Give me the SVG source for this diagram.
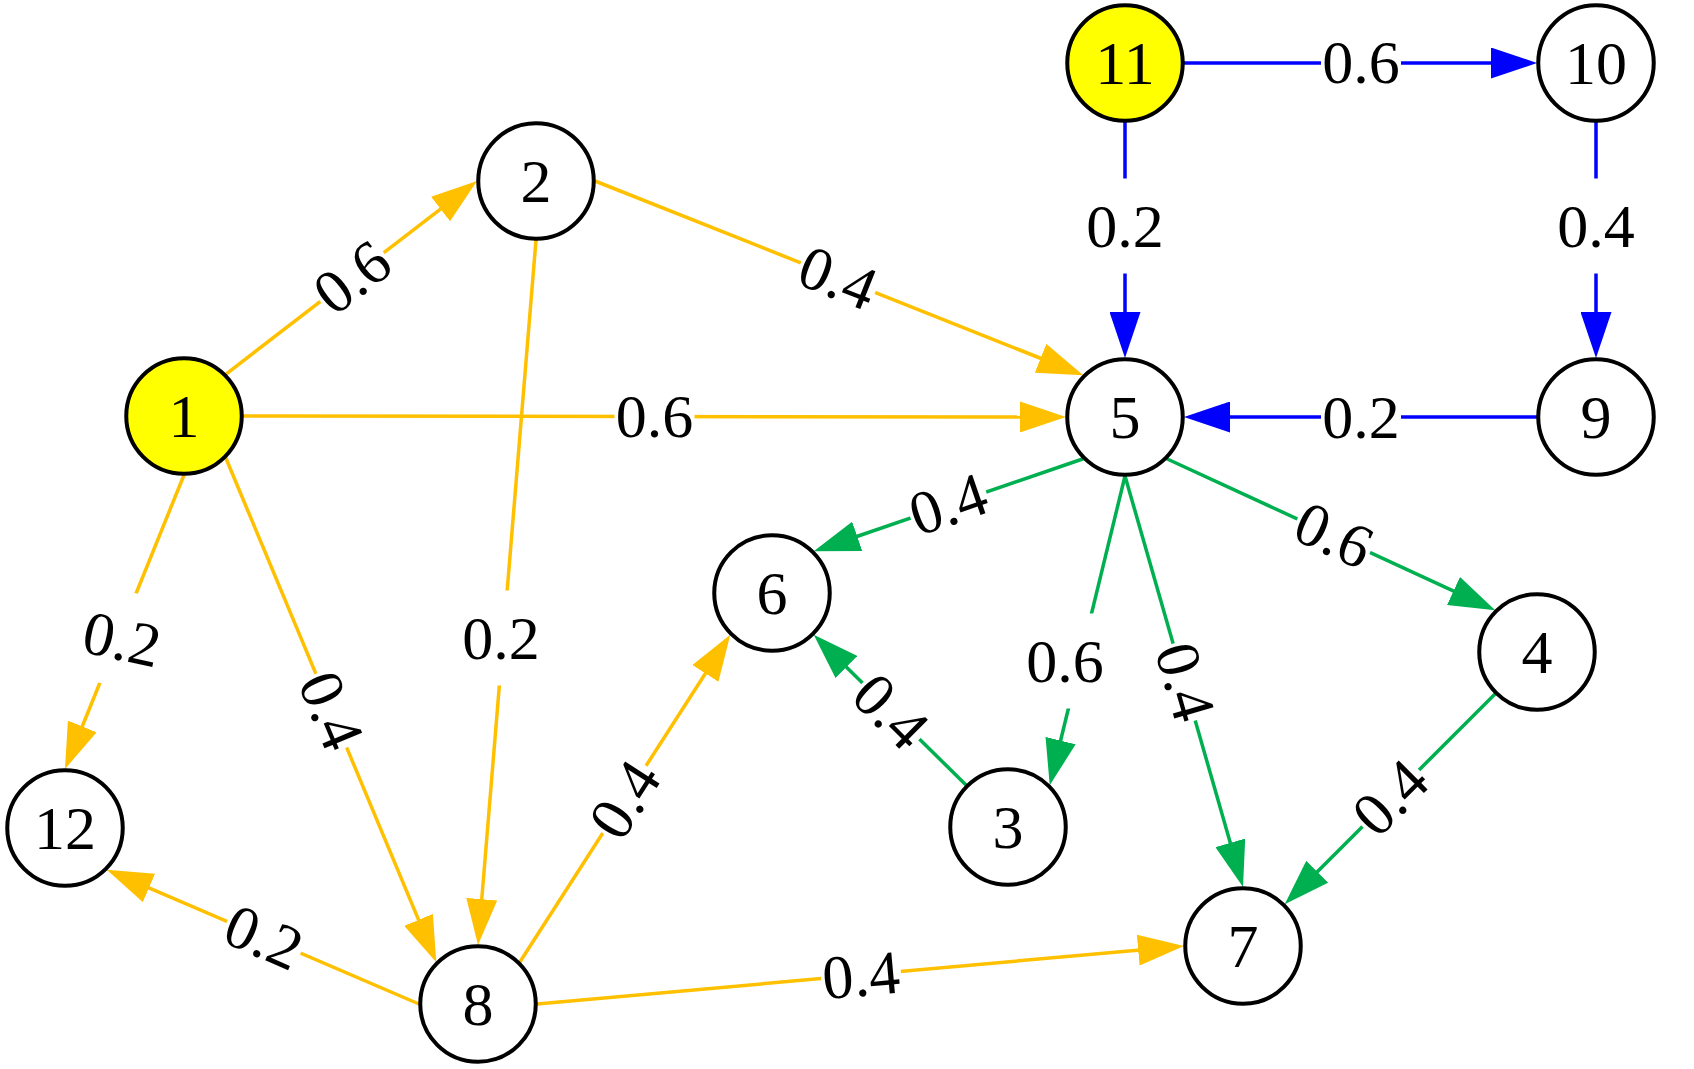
<svg xmlns="http://www.w3.org/2000/svg" width="1694" height="1069" viewBox="0 0 1694 1069">
<style>
.node circle{stroke:#000;stroke-width:4;fill:#fff}
.node.start circle{fill:#FFFF00}
text{font-family:"Liberation Serif","Times New Roman",serif;font-size:62px;text-anchor:middle;fill:#000}
.e{fill:none;stroke-width:3.5}
.o{stroke:#FFC000;marker-end:url(#ao)}
.g{stroke:#00B050;marker-end:url(#ag)}
.b{stroke:#0000FF;marker-end:url(#ab)}
.lbl rect{fill:#fff}
</style>
<defs>
<marker id="ao" markerUnits="userSpaceOnUse" markerWidth="46" markerHeight="31" refX="2" refY="15.5" orient="auto"><path d="M0,0 L46,15.5 L0,31 Z" fill="#FFC000"/></marker>
<marker id="ag" markerUnits="userSpaceOnUse" markerWidth="46" markerHeight="31" refX="2" refY="15.5" orient="auto"><path d="M0,0 L46,15.5 L0,31 Z" fill="#00B050"/></marker>
<marker id="ab" markerUnits="userSpaceOnUse" markerWidth="46" markerHeight="31" refX="2" refY="15.5" orient="auto"><path d="M0,0 L46,15.5 L0,31 Z" fill="#0000FF"/></marker>
</defs>
<rect width="1694" height="1069" fill="#fff"/>
<g id="connectors">
<line class="e o" x1="225.72" y1="374.28" x2="442.12" y2="207.83"/>
<line class="e o" x1="595" y1="181" x2="1042.4" y2="359.0"/>
<line class="e o" x1="243" y1="416" x2="1022" y2="416.95"/>
<line class="e o" x1="536" y1="240" x2="481.6" y2="901.15"/>
<line class="e o" x1="184" y1="475" x2="81.51" y2="728.22"/>
<line class="e o" x1="225.72" y1="457.72" x2="419.33" y2="921.67"/>
<line class="e o" x1="419" y1="1004" x2="147.14" y2="887.1"/>
<line class="e o" x1="519.72" y1="962.28" x2="706.49" y2="671.73"/>
<line class="e o" x1="537" y1="1004" x2="1140.18" y2="949.93"/>
<line class="e g" x1="1083.28" y1="458.72" x2="855.34" y2="536.99"/>
<line class="e g" x1="1125" y1="476" x2="1060.13" y2="742.53"/>
<line class="e g" x1="1125" y1="476" x2="1230.86" y2="844.71"/>
<line class="e g" x1="1166.72" y1="458.72" x2="1455.32" y2="591.85"/>
<line class="e g" x1="966.28" y1="785.28" x2="845.04" y2="665.63"/>
<line class="e g" x1="1495.28" y1="693.72" x2="1315.83" y2="873.17"/>
<line class="e b" x1="1184" y1="63" x2="1493" y2="63"/>
<line class="e b" x1="1125" y1="122" x2="1125" y2="314"/>
<line class="e b" x1="1596" y1="122" x2="1596" y2="314"/>
<line class="e b" x1="1537" y1="417" x2="1228" y2="417"/>
<g class="lbl" transform="translate(352,277) rotate(-37.6)"><rect x="-40" y="-47.5" width="80" height="95"/><text x="0" y="21">0.6</text></g>
<g class="lbl" transform="translate(838,277.5) rotate(21.7)"><rect x="-40" y="-47.5" width="80" height="95"/><text x="0" y="21">0.4</text></g>
<g class="lbl" transform="translate(654.5,416)"><rect x="-40" y="-47.5" width="80" height="95"/><text x="0" y="21">0.6</text></g>
<g class="lbl" transform="translate(501,638)"><rect x="-40" y="-47.5" width="80" height="95"/><text x="0" y="21">0.2</text></g>
<g class="lbl" transform="translate(122,639) rotate(12)"><rect x="-40" y="-47.5" width="80" height="95"/><text x="0" y="21">0.2</text></g>
<g class="lbl" transform="translate(331.5,710.5) rotate(67.3)"><rect x="-40" y="-47.5" width="80" height="95"/><text x="0" y="21">0.4</text></g>
<g class="lbl" transform="translate(264,937) rotate(23.3)"><rect x="-40" y="-47.5" width="80" height="95"/><text x="0" y="21">0.2</text></g>
<g class="lbl" transform="translate(624.5,799.5) rotate(-57.3)"><rect x="-40" y="-47.5" width="80" height="95"/><text x="0" y="21">0.4</text></g>
<g class="lbl" transform="translate(861,975) rotate(-5.1)"><rect x="-40" y="-47.5" width="80" height="95"/><text x="0" y="21">0.4</text></g>
<g class="lbl" transform="translate(948,504) rotate(-19)"><rect x="-40" y="-47.5" width="80" height="95"/><text x="0" y="21">0.4</text></g>
<g class="lbl" transform="translate(1065,661)"><rect x="-40" y="-47.5" width="80" height="95"/><text x="0" y="21">0.6</text></g>
<g class="lbl" transform="translate(1185.5,681.7) rotate(73.9)"><rect x="-40" y="-47.5" width="80" height="95"/><text x="0" y="21">0.4</text></g>
<g class="lbl" transform="translate(1334,535) rotate(24.8)"><rect x="-40" y="-47.5" width="80" height="95"/><text x="0" y="21">0.6</text></g>
<g class="lbl" transform="translate(891,711) rotate(44.7)"><rect x="-40" y="-47.5" width="80" height="95"/><text x="0" y="21">0.4</text></g>
<g class="lbl" transform="translate(1390,797.5) rotate(-45)"><rect x="-40" y="-47.5" width="80" height="95"/><text x="0" y="21">0.4</text></g>
<g class="lbl" transform="translate(1361,63)"><rect x="-40" y="-47.5" width="80" height="95"/><text x="0" y="20">0.6</text></g>
<g class="lbl" transform="translate(1125,226)"><rect x="-40" y="-47.5" width="80" height="95"/><text x="0" y="21">0.2</text></g>
<g class="lbl" transform="translate(1596,226)"><rect x="-40" y="-47.5" width="80" height="95"/><text x="0" y="21">0.4</text></g>
<g class="lbl" transform="translate(1361,417)"><rect x="-40" y="-47.5" width="80" height="95"/><text x="0" y="21">0.2</text></g>
</g>
<g id="node1" class="node start"><circle cx="184" cy="416" r="57.75"/><text x="184" y="437">1</text></g>
<g id="node2" class="node"><circle cx="536" cy="181" r="57.75"/><text x="536" y="202">2</text></g>
<g id="node3" class="node"><circle cx="1008" cy="827" r="57.75"/><text x="1008" y="848">3</text></g>
<g id="node4" class="node"><circle cx="1537" cy="652" r="57.75"/><text x="1537" y="673">4</text></g>
<g id="node5" class="node"><circle cx="1125" cy="417" r="57.75"/><text x="1125" y="438">5</text></g>
<g id="node6" class="node"><circle cx="772" cy="593" r="57.75"/><text x="772" y="614">6</text></g>
<g id="node7" class="node"><circle cx="1243" cy="946" r="57.75"/><text x="1243" y="967">7</text></g>
<g id="node8" class="node"><circle cx="478" cy="1004" r="57.75"/><text x="478" y="1025">8</text></g>
<g id="node9" class="node"><circle cx="1596" cy="417" r="57.75"/><text x="1596" y="438">9</text></g>
<g id="node10" class="node"><circle cx="1596" cy="63" r="57.75"/><text x="1596" y="84">10</text></g>
<g id="node11" class="node start"><circle cx="1125" cy="63" r="57.75"/><text x="1125" y="84">11</text></g>
<g id="node12" class="node"><circle cx="65" cy="828" r="57.75"/><text x="65" y="849">12</text></g>
</svg>
